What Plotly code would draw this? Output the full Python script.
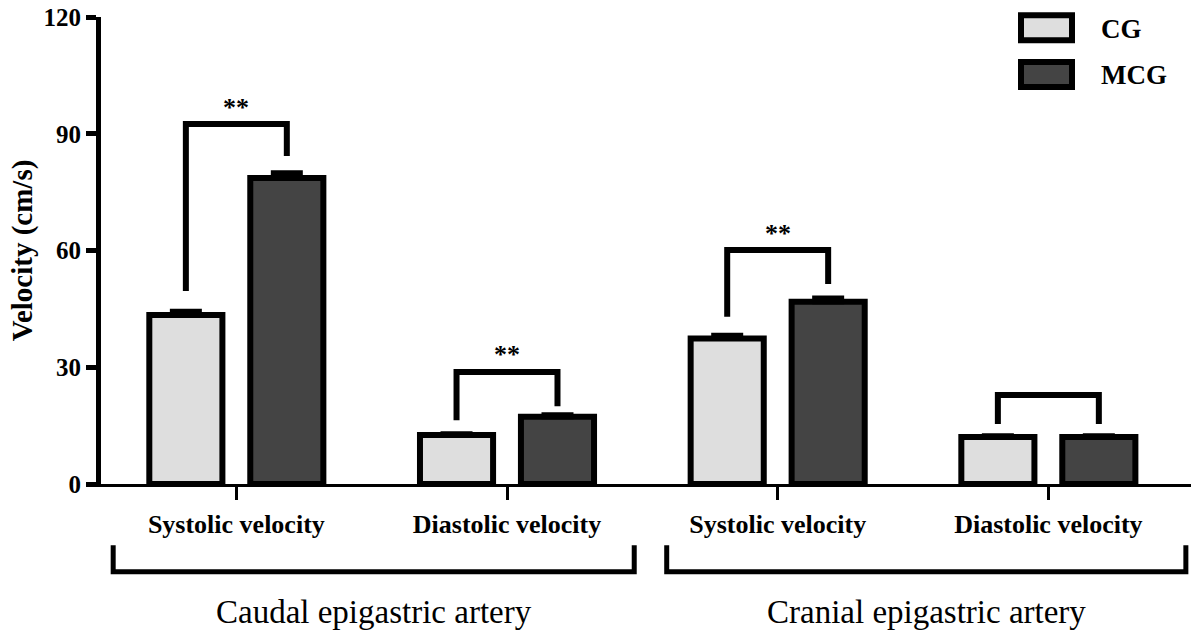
import plotly.graph_objects as go

# ---- data ----
categories = ["Systolic velocity", "Diastolic velocity", "Systolic velocity", "Diastolic velocity"]
groups = ["Caudal epigastric artery", "Cranial epigastric artery"]
series_names = ["CG", "MCG"]
cg_values = [43.4, 12.6, 37.4, 12.1]
cg_errors = [1.0, 0.3, 0.8, 0.3]
mcg_values = [78.6, 17.3, 46.8, 12.1]
mcg_errors = [1.4, 0.5, 1.0, 0.3]
# significance brackets: top height, left leg end, right leg end, label
bracket_top = [92.5, 28.8, 60.1, 22.9]
bracket_left_end = [49.6, 16.4, 43.0, 15.4]
bracket_right_end = [84.3, 20.0, 51.4, 15.4]
bracket_label = ["**", "**", "**", ""]
y_ticks = [0, 30, 60, 90, 120]

# ---- style ----
FONT = "Liberation Serif"
CG_COLOR = "#dedede"
MCG_COLOR = "#444444"
BARGAP = 0.254
BARGROUPGAP = 0.276
slot = (1 - BARGAP) / 2
offset = slot / 2

xs = list(range(len(categories)))

fig = go.Figure()
fig.add_trace(go.Bar(
    x=xs, y=cg_values, name=series_names[0],
    marker=dict(color=CG_COLOR, line=dict(color="black", width=6)),
    error_y=dict(type="data", array=cg_errors, arrayminus=[0]*len(cg_errors), symmetric=False,
                 color="black", thickness=5, width=16),
))
fig.add_trace(go.Bar(
    x=xs, y=mcg_values, name=series_names[1],
    marker=dict(color=MCG_COLOR, line=dict(color="black", width=6)),
    error_y=dict(type="data", array=mcg_errors, arrayminus=[0]*len(mcg_errors), symmetric=False,
                 color="black", thickness=5, width=16),
))

# significance brackets
for i, x in enumerate(xs):
    fig.add_trace(go.Scatter(
        x=[x - offset, x - offset, x + offset, x + offset],
        y=[bracket_left_end[i], bracket_top[i], bracket_top[i], bracket_right_end[i]],
        mode="lines", line=dict(color="black", width=6), hoverinfo="skip", showlegend=False,
    ))
    if bracket_label[i]:
        fig.add_annotation(x=x, y=bracket_top[i], text="<b>" + bracket_label[i] + "</b>",
                           showarrow=False, yshift=17, font=dict(family=FONT, size=26, color="black"))

# group brackets below axis
group_spans = [(xs[0], xs[1]), (xs[2], xs[3])]
pads = [(0.455, 0.47), (0.41, 0.508)]
for (a, b), name, (pl, pr) in zip(group_spans, groups, pads):
    x0 = a - pl
    x1 = b + pr
    fig.add_shape(type="path", xref="x", yref="paper",
                  path=f"M {x0} -0.131 L {x0} -0.188 L {x1} -0.188 L {x1} -0.131",
                  line=dict(color="black", width=5))
    fig.add_annotation(x=(x0 + x1) / 2, xref="x", y=-0.274, yref="paper", text=name,
                       showarrow=False, yanchor="middle",
                       font=dict(family=FONT, size=33, color="black"))

# manual legend
legend_rows = [(series_names[0], CG_COLOR, 27.8), (series_names[1], MCG_COLOR, 74.5)]
W, H, T = 1191, 635, 17
PLOT_L, PLOT_W, PLOT_H = 101, 1090, 467
def px_x(p):
    return (p - PLOT_L) / PLOT_W
def px_y(p):
    return (T + PLOT_H - p) / PLOT_H
for name, color, cy in legend_rows:
    fig.add_shape(type="rect", xref="paper", yref="paper",
                  x0=px_x(1021), x1=px_x(1072), y0=px_y(cy - 12.5), y1=px_y(cy + 12.5),
                  fillcolor=color, line=dict(color="black", width=6))
    fig.add_annotation(xref="paper", yref="paper", x=px_x(1099), y=px_y(cy + 1),
                       xanchor="left", yanchor="middle", showarrow=False,
                       text="<b>" + name + "</b>", font=dict(family=FONT, size=27, color="black"))

fig.update_layout(
    width=W, height=H,
    margin=dict(l=PLOT_L, r=0, t=T, b=H - T - PLOT_H),
    plot_bgcolor="white", paper_bgcolor="white",
    barmode="group", bargap=BARGAP, bargroupgap=BARGROUPGAP,
    showlegend=False,
    font=dict(family=FONT, color="black"),
)
fig.update_xaxes(
    range=[-0.5, 3.527], tickvals=xs, ticktext=["<b>" + c + "</b>" for c in categories],
    tickfont=dict(family=FONT, size=26, color="black"),
    showline=True, linecolor="black", linewidth=3,
    ticks="outside", ticklen=13, tickwidth=3, tickcolor="black",
    ticklabelstandoff=2, showgrid=False, zeroline=False, fixedrange=True,
)
fig.update_yaxes(
    range=[0, 120], tickvals=y_ticks, ticktext=["<b>%d</b>" % v for v in y_ticks],
    tickfont=dict(family=FONT, size=25, color="black"),
    showline=True, linecolor="black", linewidth=5,
    ticks="outside", ticklen=10, tickwidth=5, tickcolor="black",
    showgrid=False, zeroline=False,
    title=dict(text="<b>Velocity (cm/s)</b>", font=dict(family=FONT, size=29, color="black"), standoff=4),
)

fig.write_html("out.html", config={"displayModeBar": False},
               post_script="document.body.style.margin='0';document.body.style.overflow='hidden';")
